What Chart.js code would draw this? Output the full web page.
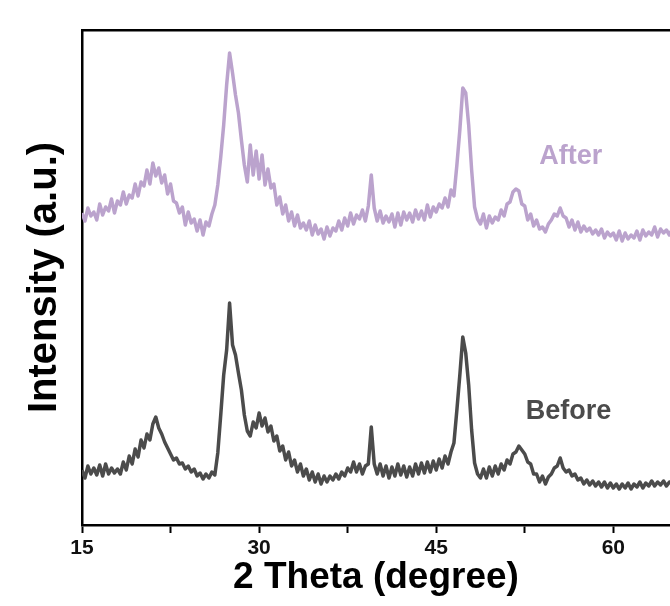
<!DOCTYPE html>
<html lang="en">
<head>
    <meta charset="UTF-8">
    <title>XRD - Before / After</title>
    <script src="https://cdn.jsdelivr.net/npm/chart.js"></script>
    <style>
        body {
            margin: 0;
            padding: 0;
            background: #ffffff;
        }
        .chart-container {
            width: 670px;
            height: 606px;
        }
    </style>
</head>
<body>
    <div class="chart-container">
        <canvas id="xrdChart" width="670" height="606"></canvas>
    </div>

    <script>
        // 2 theta positions (degree), 0.25 step
        const theta = [
            15, 15.25, 15.5, 15.75, 16, 16.25, 16.5, 16.75,
            17, 17.25, 17.5, 17.75, 18, 18.25, 18.5, 18.75,
            19, 19.25, 19.5, 19.75, 20, 20.25, 20.5, 20.75,
            21, 21.25, 21.5, 21.75, 22, 22.25, 22.5, 22.75,
            23, 23.25, 23.5, 23.75, 24, 24.25, 24.5, 24.75,
            25, 25.25, 25.5, 25.75, 26, 26.25, 26.5, 26.75,
            27, 27.25, 27.5, 27.75, 28, 28.25, 28.5, 28.75,
            29, 29.25, 29.5, 29.75, 30, 30.25, 30.5, 30.75,
            31, 31.25, 31.5, 31.75, 32, 32.25, 32.5, 32.75,
            33, 33.25, 33.5, 33.75, 34, 34.25, 34.5, 34.75,
            35, 35.25, 35.5, 35.75, 36, 36.25, 36.5, 36.75,
            37, 37.25, 37.5, 37.75, 38, 38.25, 38.5, 38.75,
            39, 39.25, 39.5, 39.75, 40, 40.25, 40.5, 40.75,
            41, 41.25, 41.5, 41.75, 42, 42.25, 42.5, 42.75,
            43, 43.25, 43.5, 43.75, 44, 44.25, 44.5, 44.75,
            45, 45.25, 45.5, 45.75, 46, 46.25, 46.5, 46.75,
            47, 47.25, 47.5, 47.75, 48, 48.25, 48.5, 48.75,
            49, 49.25, 49.5, 49.75, 50, 50.25, 50.5, 50.75,
            51, 51.25, 51.5, 51.75, 52, 52.25, 52.5, 52.75,
            53, 53.25, 53.5, 53.75, 54, 54.25, 54.5, 54.75,
            55, 55.25, 55.5, 55.75, 56, 56.25, 56.5, 56.75,
            57, 57.25, 57.5, 57.75, 58, 58.25, 58.5, 58.75,
            59, 59.25, 59.5, 59.75, 60, 60.25, 60.5, 60.75,
            61, 61.25, 61.5, 61.75, 62, 62.25, 62.5, 62.75,
            63, 63.25, 63.5, 63.75, 64, 64.25, 64.5, 64.75,
            65
        ];

        // intensity (a.u.), the After curve is drawn offset above Before
        const afterData = [
            312, 304, 317, 309, 313, 305, 321, 310,
            318, 314, 326, 312, 324, 320, 333, 321,
            330, 327, 341, 329, 343, 339, 355, 341,
            362, 349, 357, 342, 350, 331, 341, 324,
            322, 312, 318, 300, 313, 302, 306, 294,
            305, 290, 303, 299, 311, 320, 340, 368,
            400, 440, 472, 452, 430, 412, 385, 360,
            343, 380, 350, 374, 346, 370, 340, 356,
            337, 341, 320, 328, 311, 320, 304, 313,
            299, 310, 297, 302, 295, 304, 290, 300,
            291, 296, 286, 298, 289, 297, 294, 304,
            295, 307, 299, 312, 301, 310, 306, 315,
            304, 319, 350, 317, 304, 314, 302, 309,
            303, 311, 298, 312, 300, 313, 305, 312,
            303, 315, 306, 314, 305, 320, 308, 318,
            313, 321, 317, 327, 318, 335, 329, 360,
            395, 437, 432, 400, 355, 318, 306, 301,
            311, 297, 309, 302, 308, 305, 315, 309,
            321, 323, 333, 336, 334, 321, 319, 305,
            311, 299, 305, 296, 298, 293, 301, 305,
            311, 309, 317, 309, 307, 298, 305, 295,
            303, 293, 299, 294, 297, 291, 295, 290,
            296, 287, 293, 289, 292, 285, 294, 284,
            292, 286, 290, 287, 294, 285, 295, 289,
            293, 290, 298, 288, 296, 292, 295, 290,
            296
        ];

        const beforeData = [
            55, 47, 59, 51, 57, 50, 60, 49,
            61, 51, 57, 52, 56, 51, 63, 55,
            69, 61, 76, 68, 85, 77, 91, 85,
            101, 108, 97, 91, 83, 77, 71, 65,
            67, 61, 62, 56, 59, 53, 56, 49,
            52, 46, 51, 47, 53, 50, 72, 110,
            150, 175, 222, 180, 170, 152, 135, 110,
            94, 89, 103, 97, 112, 99, 107, 93,
            99, 84, 89, 74, 79, 65, 73, 59,
            65, 53, 61, 49, 56, 45, 53, 43,
            51, 41, 49, 43, 49, 45, 51, 46,
            53, 49, 57, 53, 63, 53, 61, 51,
            59, 61, 98, 61, 51, 61, 49, 59,
            47, 58, 49, 61, 50, 59, 48, 58,
            49, 61, 51, 62, 52, 63, 53, 64,
            55, 66, 57, 69, 61, 73, 82, 115,
            150, 188, 172, 140, 95, 62, 51, 47,
            56, 47, 58, 49, 59, 51, 61, 55,
            65, 61, 71, 73, 79, 75, 71, 63,
            61, 51, 51, 43, 49, 41, 48, 51,
            57, 59, 67, 57, 53, 55, 49, 51,
            45, 47, 41, 45, 40, 44, 39, 43,
            38, 43, 37, 42, 37, 41, 36, 41,
            37, 42, 36, 41, 38, 43, 37, 42,
            39, 44, 39, 43, 40, 44, 39, 43,
            42
        ];

        const xTicks = [15, 30, 45, 60];

        // curve names, written next to each curve (theta, intensity)
        const curveNames = ['After', 'Before'];
        const namePos = [[56.4, 368], [56.2, 113]];

        const afterColor = '#bba3cd';
        const beforeColor = '#4b4b4b';

        const toPoints = (ys) => theta.map((t, i) => ({ x: t, y: ys[i] }));

        const curveLabels = {
            id: 'curveLabels',
            afterDatasetsDraw(chart) {
                const ctx = chart.ctx;
                const xs = chart.scales.x;
                const ys = chart.scales.y;
                const colors = [afterColor, beforeColor];
                ctx.save();
                ctx.font = 'bold 27px "Liberation Sans", Arial, sans-serif';
                ctx.textAlign = 'center';
                ctx.textBaseline = 'middle';
                curveNames.forEach((name, i) => {
                    ctx.fillStyle = colors[i];
                    ctx.fillText(name, xs.getPixelForValue(namePos[i][0]), ys.getPixelForValue(namePos[i][1]));
                });
                ctx.restore();
            }
        };

        const ctx = document.getElementById('xrdChart').getContext('2d');
        new Chart(ctx, {
            type: 'line',
            data: {
                datasets: [
                    {
                        label: 'After',
                        data: toPoints(afterData),
                        borderColor: afterColor,
                        borderWidth: 3.5,
                        pointRadius: 0,
                        tension: 0,
                        borderJoinStyle: 'round'
                    },
                    {
                        label: 'Before',
                        data: toPoints(beforeData),
                        borderColor: beforeColor,
                        borderWidth: 3.5,
                        pointRadius: 0,
                        tension: 0,
                        borderJoinStyle: 'round'
                    }
                ]
            },
            options: {
                responsive: false,
                animation: false,
                layout: { padding: 0 },
                plugins: {
                    legend: { display: false },
                    tooltip: { enabled: false }
                },
                scales: {
                    x: {
                        type: 'linear',
                        position: 'bottom',
                        min: 15,
                        max: 64.8,
                        afterFit: (scale) => { scale.height = 81; },
                        ticks: {
                            stepSize: 7.5,
                            includeBounds: false,
                            autoSkip: false,
                            maxRotation: 0,
                            padding: 3,
                            color: '#111',
                            font: { family: '"Liberation Sans", Arial', size: 21, weight: 'bold' },
                            callback: (v) => xTicks.includes(v) ? String(v) : ''
                        },
                        grid: {
                            drawOnChartArea: false,
                            drawTicks: true,
                            tickLength: 8,
                            tickWidth: 2,
                            tickColor: '#000'
                        },
                        border: { display: true, color: '#000', width: 2.5 },
                        title: {
                            display: true,
                            text: '2 Theta (degree)',
                            color: '#000',
                            font: { family: '"Liberation Sans", Arial', size: 37, weight: 'bold' },
                            padding: { top: 0, bottom: 6 }
                        }
                    },
                    xTop: {
                        type: 'linear',
                        position: 'top',
                        min: 15,
                        max: 64.8,
                        afterFit: (scale) => { scale.height = 30; },
                        ticks: { display: false },
                        grid: { display: false, drawTicks: false },
                        border: { display: true, color: '#000', width: 2.5 }
                    },
                    y: {
                        type: 'linear',
                        position: 'left',
                        min: 0,
                        max: 495,
                        afterFit: (scale) => { scale.width = 82; },
                        ticks: { display: false },
                        grid: { display: false, drawTicks: false },
                        border: { display: true, color: '#000', width: 2.5 },
                        title: {
                            display: true,
                            text: 'Intensity (a.u.)',
                            color: '#000',
                            font: { family: '"Liberation Sans", Arial', size: 40, weight: 'bold' },
                            padding: { top: 21, bottom: 0 }
                        }
                    }
                }
            },
            plugins: [curveLabels]
        });
    </script>
</body>
</html>
